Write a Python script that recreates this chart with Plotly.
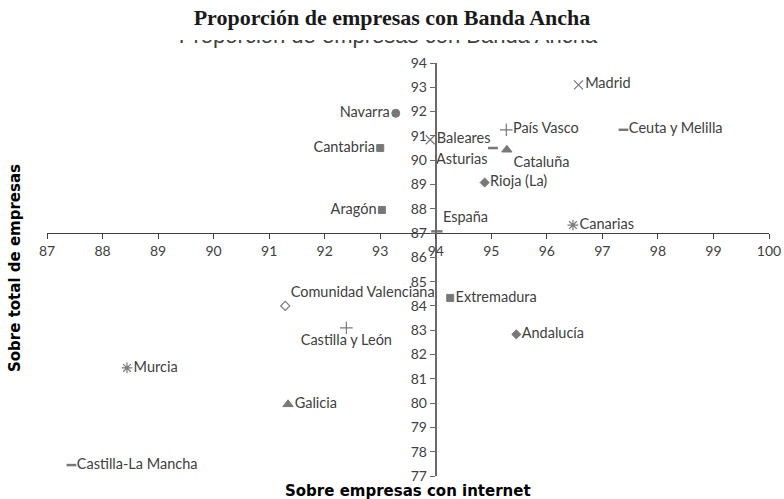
import plotly.graph_objects as go

# ---- data ----
regiones = ["Madrid", "País Vasco", "Ceuta y Melilla", "Navarra", "Baleares", "Cantabria",
            "Asturias", "Cataluña", "Rioja (La)", "Aragón", "España", "Canarias",
            "Comunidad Valenciana", "Extremadura", "Castilla y León", "Andalucía",
            "Murcia", "Galicia", "Castilla-La Mancha"]
sobre_internet = [96.57, 95.27, 97.38, 93.28, 93.90, 93.00, 95.03, 95.28, 94.88, 93.03,
                  94.02, 96.47, 91.29, 94.26, 92.39, 95.45, 88.44, 91.34, 87.44]
sobre_total = [93.10, 91.25, 91.25, 91.93, 90.84, 90.50, 90.50, 90.43, 89.08, 87.95,
               87.07, 87.33, 84.00, 84.33, 83.10, 82.83, 81.45, 79.95, 77.45]
x_ticks = list(range(87, 101))
y_ticks = list(range(77, 95))
titulo = "Proporción de empresas con Banda Ancha"
titulo_x = "Sobre empresas con internet"
titulo_y = "Sobre total de empresas"

# ---- styles ----
simbolos = ["x-thin", "cross-thin", "line-ew", "circle", "x-thin", "square",
            "line-ew", "triangle-up", "diamond", "square", "line-ew", "asterisk",
            "diamond-open", "square", "cross-thin", "diamond", "asterisk", "triangle-up", "line-ew"]
tamanos = [9, 9, 7, 8, 9, 7, 7, 9, 7, 7, 8, 9, 7, 7, 9, 7, 9, 9, 7]
anchos = [1.2, 1.2, 2.5, 1, 1.2, 1, 2.5, 1, 1, 1, 2.5, 1.2, 1.2, 1, 1.2, 1, 1.2, 1, 2.5]
posiciones = ["middle right", "middle right", "middle right", "middle left", "middle right",
              "middle left", "bottom left", "bottom right", "middle right", "middle left",
              "top right", "middle right", "top right", "middle right", "bottom center",
              "middle right", "middle right", "middle right", "middle right"]

GRIS = "#404040"
GRIS_EJE_Y = "#6a6a6a"
FUENTE = "Lato"
x_rng = [x_ticks[0], x_ticks[-1]]
y_rng = [y_ticks[0], y_ticks[-1]]
cruce_x, cruce_y = 94, 87

ML, MR, MT, MB = 47, 15, 30, 23
W, H = 784, 499
ph = H - MT - MB
pw = W - ML - MR
dom_top = (H - MB - 63) / ph

fig = go.Figure()
fig.add_trace(go.Scatter(
    x=sobre_internet, y=sobre_total, text=regiones, mode="markers+text",
    textposition=posiciones, cliponaxis=False,
    textfont=dict(family=FUENTE, size=14.5, color=GRIS),
    marker=dict(symbol=simbolos, size=tamanos, color=GRIS,
                line=dict(color=GRIS, width=anchos)),
    showlegend=False, hoverinfo="skip"))

# ghost (clipped) title behind the main one
fig.add_trace(go.Scatter(
    x=[(388 - ML) / pw], y=[0.6], text=[titulo], mode="text", textposition="top center",
    cliponaxis=True, textfont=dict(family="Liberation Sans", size=22, color=GRIS),
    xaxis="x2", yaxis="y2", showlegend=False, hoverinfo="skip"))

fig.update_layout(
    width=W, height=H, plot_bgcolor="white", paper_bgcolor="white",
    margin=dict(l=ML, r=MR, t=MT, b=MB, autoexpand=False),
    title=dict(text="<b>" + titulo + "</b>", x=(392 / W), xanchor="center",
               y=1 - 17 / H, yanchor="middle", yref="container",
               font=dict(family="Liberation Serif", size=22, color="#1a1a1a")),
    xaxis=dict(range=x_rng, tickvals=x_ticks, domain=[0, 1], anchor="free",
               position=dom_top * (cruce_y - y_rng[0]) / (y_rng[1] - y_rng[0]),
               showline=True, linecolor=GRIS, linewidth=1, ticks="outside",
               ticklen=5, tickcolor=GRIS, showgrid=False, zeroline=False,
               automargin=False,
               tickfont=dict(family=FUENTE, size=14, color=GRIS)),
    yaxis=dict(range=y_rng, tickvals=y_ticks, domain=[0, dom_top], anchor="free",
               position=(cruce_x - x_rng[0]) / (x_rng[1] - x_rng[0]),
               showline=True, linecolor=GRIS_EJE_Y, linewidth=2, ticks="outside",
               ticklen=5, tickcolor=GRIS_EJE_Y, showgrid=False, zeroline=False,
               automargin=False,
               tickfont=dict(family=FUENTE, size=14, color=GRIS)),
    xaxis2=dict(range=[0, 1], domain=[0, 1], anchor="y2", visible=False),
    yaxis2=dict(range=[0, 1], domain=[(H - MB - 62) / ph, (H - MB - 40) / ph],
                anchor="x2", visible=False),
    annotations=[
        dict(text="<b>" + titulo_x + "</b>", xref="paper", yref="paper",
             x=0.5, y=(H - MB - 491) / ph, xanchor="center", yanchor="middle",
             showarrow=False, font=dict(family="DejaVu Sans", size=15, color="black")),
        dict(text="<b>" + titulo_y + "</b>", xref="paper", yref="paper",
             x=(15 - ML) / pw, y=(H - MB - 268) / ph, xanchor="center", yanchor="middle",
             textangle=-90, showarrow=False,
             font=dict(family="DejaVu Sans", size=15, color="black")),
    ],
)

fig.write_html("out.html", config={"displayModeBar": False},
               post_script="document.body.style.margin='0';document.body.style.overflow='hidden';")
